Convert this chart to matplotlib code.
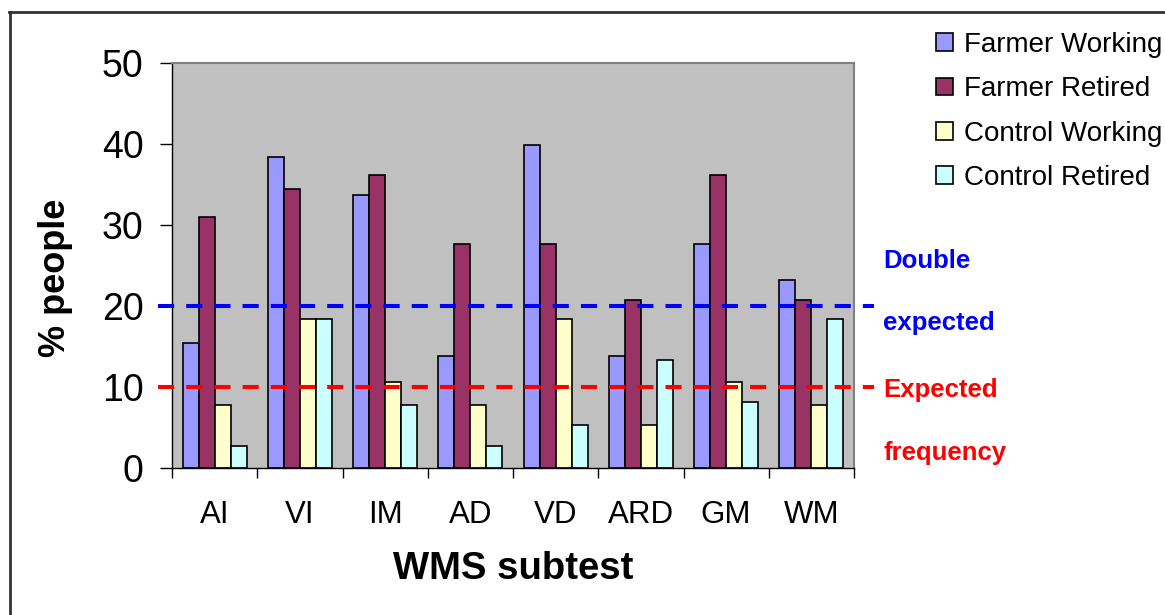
import matplotlib.pyplot as plt
from matplotlib.lines import Line2D
import numpy as np

plt.rcParams['font.family'] = ['Liberation Sans', 'DejaVu Sans']

# WMS subtests and % of people per group
subtests = ["AI", "VI", "IM", "AD", "VD", "ARD", "GM", "WM"]
farmer_working = [15.4, 38.4, 33.7, 13.8, 39.9, 13.8, 27.6, 23.2]
farmer_retired = [31.0, 34.4, 36.2, 27.6, 27.6, 20.7, 36.2, 20.7]
control_working = [7.8, 18.4, 10.6, 7.8, 18.4, 5.3, 10.6, 7.8]
control_retired = [2.7, 18.4, 7.8, 2.7, 5.3, 13.3, 8.1, 18.4]

group_names = ["Farmer Working", "Farmer Retired", "Control Working", "Control Retired"]
group_colors = ["#9999FF", "#993366", "#FFFFCC", "#CCFFFF"]

expected = 10
double_expected = 2 * expected

fig = plt.figure(figsize=(11.65, 6.15), dpi=100)
ax = fig.add_axes([172 / 1165, 1 - 468 / 615, 682 / 1165, 405 / 615])
ax.set_facecolor("#C0C0C0")

x = np.arange(len(subtests))
w = 0.1875
series = [farmer_working, farmer_retired, control_working, control_retired]
bars = []
for i, (vals, col) in enumerate(zip(series, group_colors)):
    b = ax.bar(x + (i - 1.5) * w, vals, w, color=col, edgecolor="black",
               linewidth=1.2, label=group_names[i], zorder=2)
    bars.append(b)

# reference lines, running a little past the plot area
trans = ax.get_yaxis_transform()
for yv, col in [(double_expected, "#0000FF"), (expected, "#FF0000")]:
    ax.plot([-0.02, 1.03], [yv, yv], transform=trans, color=col, lw=2.9,
            dashes=(4, 3), clip_on=False, zorder=3)

ax.set_xlim(-0.5, len(subtests) - 0.5)
ax.set_ylim(0, 50)
ax.set_yticks([0, 10, 20, 30, 40, 50])
ax.tick_params(axis="y", labelsize=27, length=8.6, width=1, pad=12)

ax.set_xticks(np.arange(len(subtests) + 1) - 0.5)
ax.set_xticklabels([])
ax.set_xticks(x, minor=True)
ax.set_xticklabels(subtests, minor=True)
ax.tick_params(axis="x", which="major", length=7, width=1)
ax.tick_params(axis="x", which="minor", length=0, labelsize=22.5, pad=23)

for s in ["top", "right"]:
    ax.spines[s].set_color("#808080")
    ax.spines[s].set_linewidth(1.5)
for s in ["left", "bottom"]:
    ax.spines[s].set_color("black")
    ax.spines[s].set_linewidth(1)

ax.set_xlabel("WMS subtest", fontsize=27.5, fontweight="bold")
ax.xaxis.set_label_coords(0.5, -0.205)
ax.set_ylabel("% people", fontsize=26, fontweight="bold")
ax.yaxis.set_label_coords(-0.145, 0.47)

fig.legend(handles=bars, loc="upper left", bbox_to_anchor=(936 / 1165, 1 - 32 / 615),
           frameon=False, fontsize=20, handlelength=0.6, handleheight=0.6,
           handletextpad=0.4, labelspacing=0.66, borderpad=0, borderaxespad=0)

fig.text(883 / 1165, 1 - 268 / 615, "Double", color="#0000FF", fontsize=18.5,
         fontweight="bold", va="baseline")
fig.text(883 / 1165, 1 - 330 / 615, "expected", color="#0000FF", fontsize=18.5,
         fontweight="bold", va="baseline")
fig.text(883 / 1165, 1 - 397 / 615, "Expected", color="#FF0000", fontsize=18.5,
         fontweight="bold", va="baseline")
fig.text(883 / 1165, 1 - 460 / 615, "frequency", color="#FF0000", fontsize=18.5,
         fontweight="bold", va="baseline")

# outer frame along the top and left edges
fig.add_artist(Line2D([9.5 / 1165, 9.5 / 1165], [0, 1 - 12 / 615], color="#333333", lw=2))
fig.add_artist(Line2D([8.5 / 1165, 1], [1 - 12 / 615, 1 - 12 / 615], color="#333333", lw=2))

fig.savefig("out.png", dpi=100)
